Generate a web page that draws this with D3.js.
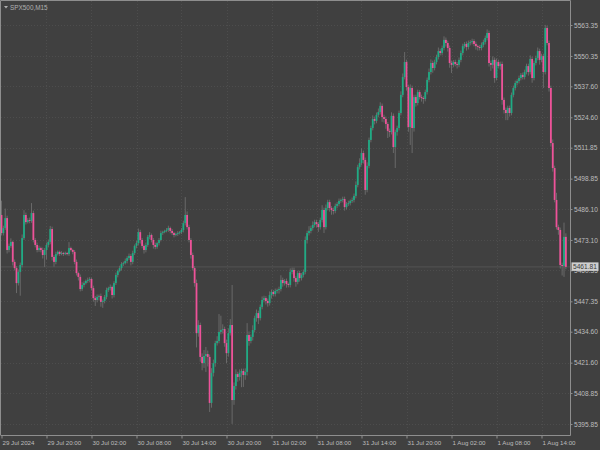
<!DOCTYPE html>
<html><head><meta charset="utf-8">
<script src="https://cdn.jsdelivr.net/npm/d3@7"></script>
<style>html,body{margin:0;padding:0;background:#404040;}svg{display:block;}</style>
</head><body>
<svg id="c" width="600" height="450"></svg>
<script>
const symbolTitle = "SPX500,M15";
const firstOpen = 5483.6;
const closes = [5476.0,5478.1,5482.3,5468.9,5470.6,5472.3,5463.9,5461.3,5455.0,5459.7,
5462.6,5473.9,5483.6,5480.6,5481.5,5481.1,5484.4,5473.1,5471.0,5468.9,
5469.7,5468.9,5466.8,5468.9,5471.0,5472.3,5477.7,5466.0,5463.9,5467.2,
5468.1,5467.2,5467.6,5467.2,5467.6,5467.2,5469.7,5468.9,5468.1,5463.9,
5459.2,5457.6,5452.5,5454.2,5455.0,5455.9,5456.3,5456.7,5452.9,5448.7,
5447.9,5449.2,5449.6,5447.1,5447.5,5449.2,5452.1,5452.9,5453.4,5450.0,
5455.0,5458.4,5460.1,5461.3,5463.0,5463.4,5464.3,5465.5,5466.4,5463.9,
5467.6,5470.6,5471.8,5476.4,5473.1,5470.6,5468.9,5471.0,5474.4,5475.2,
5473.1,5471.0,5470.2,5471.8,5473.1,5476.0,5476.4,5476.9,5477.3,5478.1,
5476.9,5476.0,5475.2,5475.6,5476.0,5476.4,5477.3,5480.2,5483.6,5478.5,
5473.1,5466.8,5461.3,5455.0,5434.0,5437.4,5424.0,5421.4,5424.4,5425.2,
5424.0,5404.7,5417.3,5421.4,5429.8,5430.7,5434.5,5435.3,5435.7,5429.8,
5425.6,5434.0,5437.4,5405.9,5411.8,5416.8,5415.6,5417.3,5418.1,5416.4,
5417.7,5433.2,5430.7,5432.4,5435.3,5440.3,5442.4,5440.3,5445.0,5447.9,
5448.7,5447.5,5446.6,5450.0,5451.3,5450.4,5451.7,5452.1,5452.5,5456.3,
5455.0,5455.9,5454.6,5454.2,5459.7,5460.5,5457.1,5455.5,5459.2,5457.1,
5458.4,5459.7,5473.1,5476.0,5476.9,5478.1,5479.4,5480.6,5479.8,5478.5,
5481.5,5485.7,5478.5,5486.5,5489.0,5486.5,5485.7,5485.3,5487.4,5488.2,
5489.5,5489.9,5490.3,5486.9,5488.2,5488.6,5489.5,5489.9,5491.6,5496.2,
5503.7,5505.4,5509.6,5506.7,5494.1,5504.2,5515.1,5520.1,5523.9,5523.1,
5525.6,5526.8,5529.4,5524.7,5523.9,5521.8,5518.9,5518.4,5525.2,5512.1,
5518.4,5520.1,5526.4,5534.0,5541.5,5547.8,5537.3,5520.5,5536.9,5520.1,
5533.1,5530.6,5535.2,5533.1,5532.7,5532.3,5535.2,5540.3,5543.6,5547.4,
5545.3,5547.8,5549.9,5552.4,5551.6,5553.7,5557.1,5555.8,5553.7,5547.4,
5546.6,5547.8,5547.0,5546.6,5548.7,5551.6,5554.5,5555.4,5554.1,5555.8,
5556.2,5556.6,5555.4,5554.5,5554.1,5553.7,5555.0,5556.2,5557.9,5560.0,
5547.4,5546.6,5548.7,5541.1,5547.8,5546.1,5547.0,5531.9,5527.7,5526.4,
5528.5,5526.4,5534.0,5536.9,5539.0,5539.8,5541.1,5542.4,5541.5,5543.6,
5546.1,5543.6,5549.1,5541.1,5547.4,5549.5,5552.4,5548.7,5550.3,5543.6,
5562.1,5555.8,5536.9,5513.8,5503.3,5489.9,5478.5,5477.3,5462.6,5462.2,
5474.4,5461.81];
const upperShadow = [6,1,4,1,1,1.5,0.5,1,0.8,1,
1,1.5,2,1,0.8,1,4.2,1,0.8,1,
1,0.6,1,0.8,1,1,1.3,1,0.8,1,
0.6,0.5,0.8,0.5,0.6,0.5,2.5,0.6,0.5,0.8,
1,0.6,1,1.2,0.8,0.6,1,0.8,0.6,1,
0.8,1,0.6,1,0.6,0.8,1,0.6,1,0.6,
0.8,1,0.6,1,0.8,0.6,1,0.8,1,0.8,
1,0.6,1,1.5,1,0.8,0.6,1,0.8,1.2,
0.6,0.8,1,0.6,0.8,1,0.6,0.5,0.8,1,
0.6,0.8,0.5,0.6,0.8,0.5,0.8,1,7.5,1.5,
1,0.8,1,0.8,1.5,2,1,1.5,2.5,3,
1.5,1,2,1.5,1,2,7.5,6,2,1,
1.5,2,2.5,16.8,1.5,2,1,1.5,1,1,
1.5,5,1.5,1,2,1,1.5,1,1,1.5,
1,0.8,1,1.5,1,0.8,1,0.6,1,2,
1,0.8,1,0.6,1.5,1,1,0.8,1,1,
0.8,1,1.5,1,2,1,1.5,1,1,0.8,
1,2,1,1.5,1,1,0.8,1,1,0.8,
1,0.6,1,1,0.8,1,0.6,1,1,1.5,
1,2,2,1,1,1.5,1,1,1.5,1,
1,1.5,1.5,1,1,1,0.8,1,1.5,1,
1,1,1,1.5,1.5,4.2,1,1,1.5,1,
1,1,1,0.8,1,0.8,1,1,1.5,1.5,
1,1,1,1.5,1,1,1.5,1,1,1,
1,0.8,1,0.8,1,1,1,0.8,1,1,
0.8,1,0.8,1,0.6,0.8,1,1,1,1.5,
1,1,1.5,1,1.5,1,1,1,1,1,
1,1,1,1,1,0.8,1,0.8,1,1,
1,1,1.5,1,1,1,1.5,1,1,1,
1.3,1,1,1,1.5,1,3,1,1,1,
6,1.5];
const lowerShadow = [1,1,0.8,1.5,1,0.8,1.5,1,4.2,1,
10,1,0.8,1,0.6,1,0.8,1,1,1,
0.8,1,1.5,5,4,1,1,1.5,2,1,
0.6,0.8,0.5,0.8,0.5,0.6,0.8,0.6,1,1,
1,1.5,1,0.8,1,0.6,0.8,1,1,1.5,
2.5,1,1.5,2,2.5,1,1,0.8,1,1.5,
1,0.8,1,0.6,1,0.8,0.6,1,0.8,1.5,
1,0.8,1,1,1.5,1,1.5,1,0.8,1,
1,1.5,1,0.8,1,0.6,0.8,0.5,0.6,0.8,
1,0.8,1,0.6,0.8,0.6,0.8,1,1,1,
1,1.5,1,1.5,6,1.5,2,3,2,6.7,
4,3.8,2,1.5,1.5,1,1,1,1.5,1.5,
4.2,1.5,1,10,2,1.5,2,1.5,6,5,
2,1.5,2,1,1.5,1,1.5,2.5,1,1,
1,1.5,1.5,1,1.5,1,1,1,1.5,1,
1.5,1,1.5,1,1,1,1.5,2,1,1.5,
1,1,1,1.5,1,1,1,1,1.5,2,
1,1,2.5,1,1,1.5,2,1.5,1,1,
1,0.8,1,1.5,1,0.8,1,0.8,1,1,
1,1,1,1.5,2,1,1,1,1,1.5,
1,1,1,2,1.5,2,3,2,1,2.5,
8.8,1.5,1,1,1,1,1.5,2,7.5,10.5,
1.5,1.5,1,1,1.5,2,1,1,1,1,
2,1,1,1,1,1,1,1.5,1.5,2,
3.4,1,1,1.5,1,1,1,1,1.5,1,
1,1,1,1.5,1.5,1,1,1,1,1,
1.5,2.5,1.5,2,1,1,1.5,2,1.5,3,
3,1.5,1,1,1,1,1,1,1,1,
1,1.5,1,2,1,1,1,2,1,6.7,
1,1,1.5,1.5,1.5,1,1,2,1.5,4,
4.6,1];
const priceTicks = [5563.35,5550.35,5537.60,5524.60,5511.85,5498.85,5486.10,5473.10,5460.35,5447.35,5434.60,5421.60,5408.85,5395.85];
const timeTickBars = [0,24,48,72,96,120,144,168,192,216,240,264,288];
const timeTickLabels = ["29 Jul 2024","29 Jul 20:00","30 Jul 02:00","30 Jul 08:00","30 Jul 14:00","30 Jul 20:00","31 Jul 02:00","31 Jul 08:00","31 Jul 14:00","31 Jul 20:00","1 Aug 02:00","1 Aug 08:00","1 Aug 14:00"];
const lastPrice = 5461.81;

const bars = closes.map((c,i)=>{
  const o = i===0 ? firstOpen : closes[i-1];
  return {i, o, c, h: Math.max(o,c)+upperShadow[i], l: Math.min(o,c)-lowerShadow[i]};
});

const svg = d3.select("#c");
const plotR = 570, plotB = 435;
const font = "'Liberation Sans', Arial, sans-serif";
const x = d3.scaleLinear().domain([0, closes.length-1]).range([1.5, 1.5 + 1.875*(closes.length-1)]);
const y = d3.scaleLinear().domain([5395.85, 5563.35]).range([424, 25]);

svg.append("rect").attr("width",600).attr("height",450).attr("fill","#404040");

// grid
const grid = svg.append("g").attr("stroke","#4d4d4d").attr("stroke-width",1).attr("stroke-dasharray","1,2");
grid.selectAll("line.h").data(priceTicks).join("line")
  .attr("x1",1).attr("x2",plotR).attr("y1",d=>Math.round(y(d))+0.5).attr("y2",d=>Math.round(y(d))+0.5);
grid.selectAll("line.v").data(timeTickBars.slice(1)).join("line")
  .attr("y1",1).attr("y2",plotB).attr("x1",d=>Math.round(x(d))+0.5).attr("x2",d=>Math.round(x(d))+0.5);

// bid line
svg.append("line").attr("x1",1).attr("x2",plotR).attr("y1",y(lastPrice)).attr("y2",y(lastPrice))
  .attr("stroke","#525252").attr("stroke-width",1);

// candles
const cg = svg.append("g");
cg.selectAll("line.w").data(bars).join("line")
  .attr("x1",d=>x(d.i)).attr("x2",d=>x(d.i)).attr("y1",d=>y(d.h)).attr("y2",d=>y(d.l))
  .attr("stroke","#737373").attr("stroke-width",0.8);
cg.selectAll("rect").data(bars).join("rect")
  .attr("x",d=>x(d.i)-0.9).attr("width",1.8)
  .attr("y",d=>y(Math.max(d.o,d.c)))
  .attr("height",d=>Math.max(0.8, Math.abs(y(d.o)-y(d.c))))
  .attr("fill",d=>d.c>=d.o ? "#1fab84" : "#ee5299");

// frame
svg.append("path").attr("d",`M0.5,${plotB}V0.5H${plotR+0.5}V${plotB+0.5}H0.5`)
  .attr("fill","none").attr("stroke","#8e8e8e").attr("stroke-width",1);

// price axis
const ya = svg.append("g").attr("transform",`translate(${plotR+0.5},0)`)
  .call(d3.axisRight(y).tickValues(priceTicks).tickSize(2).tickPadding(1.5).tickSizeOuter(0)
    .tickFormat(d=>d.toFixed(2)));
ya.select(".domain").remove();
ya.selectAll("line").attr("stroke","#8e8e8e");
ya.selectAll("text").attr("fill","#bdbdbd").attr("font-size","6.6px").attr("font-family",font);

// time axis
const xa = svg.append("g").attr("transform",`translate(0,${plotB+0.5})`)
  .call(d3.axisBottom(x).tickValues(timeTickBars).tickSize(3).tickPadding(2.5).tickSizeOuter(0)
    .tickFormat((d,i)=>timeTickLabels[i]));
xa.select(".domain").remove();
xa.selectAll("line").attr("stroke","#8e8e8e");
xa.selectAll("text").attr("fill","#bdbdbd").attr("font-size","6.2px").attr("font-family",font)
  .attr("text-anchor","start").attr("dx","0.5");

// last price box
const ly = y(lastPrice);
svg.append("rect").attr("x",plotR+1.5).attr("y",ly-4.5).attr("width",27).attr("height",8.5).attr("fill","#cfcfcf");
svg.append("text").attr("x",plotR+3).attr("y",ly).attr("dy","0.34em").text(lastPrice.toFixed(2))
  .attr("fill","#3a3a3a").attr("font-size","6.6px").attr("font-family",font);

// title
svg.append("path").attr("d","M4,6H8L6,8.5Z").attr("fill","#b0b0b0");
svg.append("text").attr("x",10).attr("y",10).text(symbolTitle)
  .attr("fill","#b0b0b0").attr("font-size","6.4px").attr("font-family",font);
</script>
</body></html>
